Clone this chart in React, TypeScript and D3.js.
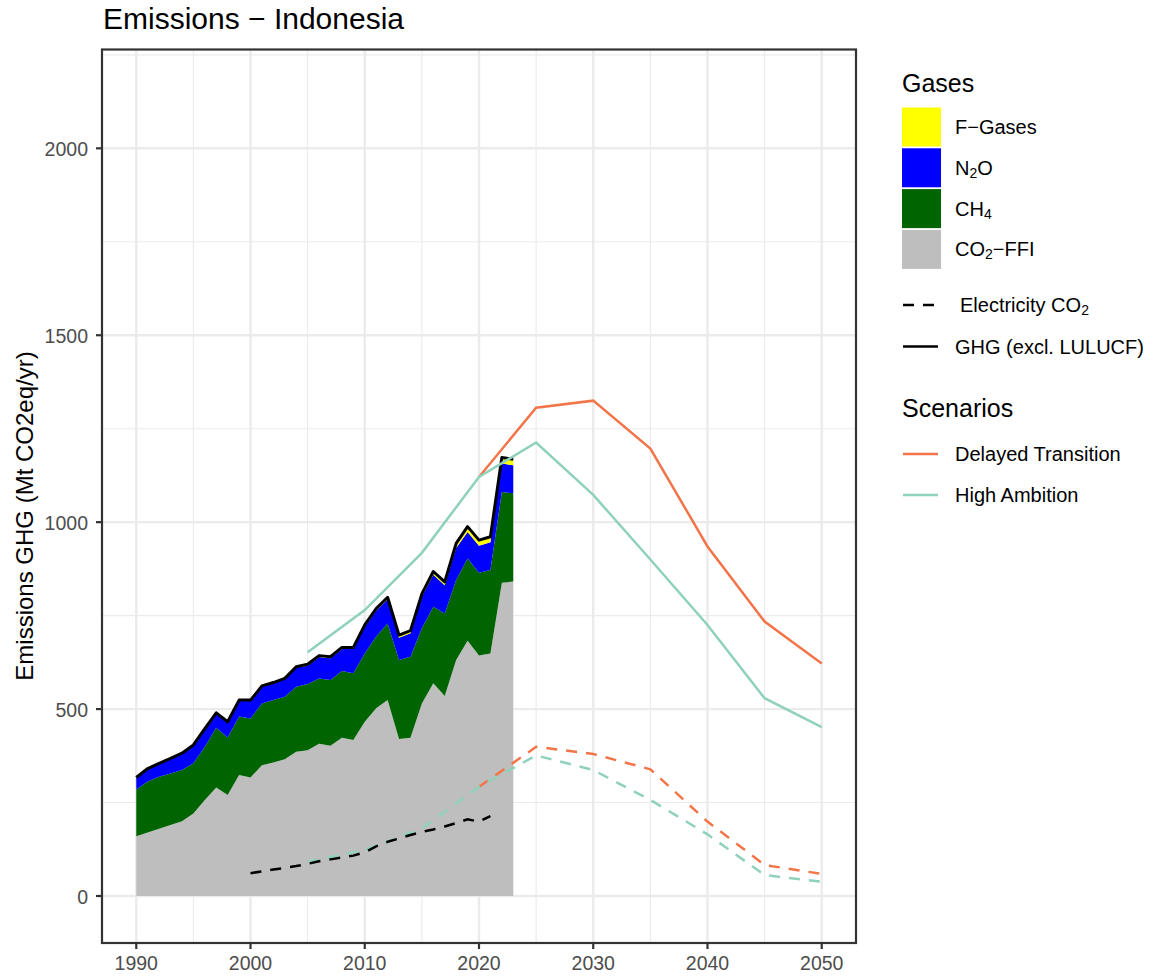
import React from 'react';
import * as d3 from 'd3';

const years = [1990, 1991, 1992, 1993, 1994, 1995, 1996, 1997, 1998, 1999, 2000, 2001, 2002, 2003, 2004, 2005, 2006, 2007, 2008, 2009, 2010, 2011, 2012, 2013, 2014, 2015, 2016, 2017, 2018, 2019, 2020, 2021, 2022, 2023];
const co2ffi = [160, 170, 180, 190, 200, 221, 257, 290, 270, 324, 317, 350, 357, 366, 386, 390, 407, 402, 423, 417, 466, 502, 524, 420, 423, 515, 569, 535, 631, 683, 643, 649, 838, 841];
const ch4 = [125, 136, 139, 138, 137, 134, 142, 160, 154, 156, 158, 165, 167, 167, 174, 177, 175, 176, 179, 179, 183, 192, 205, 211, 217, 201, 205, 221, 214, 220, 222, 223, 243, 236];
const n2o = [31, 34, 35, 39, 44, 48, 48, 39, 41, 43, 47, 45, 45, 47, 51, 49, 57, 58, 59, 65, 71, 70, 65, 60, 63, 85, 85, 75, 86, 71, 72, 74, 76, 75];
const fgases = [1, 1, 1, 1, 1, 1, 1, 1, 1, 1, 2, 2, 2, 2, 2, 4, 4, 4, 4, 4, 5, 5, 5, 7, 7, 7, 9, 9, 12, 14, 15, 15, 16, 16];

const elecYears = [2000, 2001, 2002, 2003, 2004, 2005, 2006, 2007, 2008, 2009, 2010, 2011, 2012, 2013, 2014, 2015, 2016, 2017, 2018, 2019, 2020, 2021];
const elecCO2 = [61, 66, 71, 75, 80, 86, 93, 98, 103, 108, 117, 133, 145, 154, 163, 172, 178, 186, 195, 205, 199, 214];

const haYears = [2005, 2010, 2015, 2020, 2025, 2030, 2035, 2040, 2045, 2050];
const haGHG = [652, 765, 918, 1121, 1213, 1073, 900, 725, 529, 452];
const haElec = [92, 123, 181, 292, 376, 337, 257, 165, 56, 38];

const dtYears = [2020, 2025, 2030, 2035, 2040, 2045, 2050];
const dtGHG = [1121, 1306, 1325, 1197, 935, 734, 622];
const dtElec = [292, 399, 380, 339, 199, 83, 59];

const xMajor = [1990, 2000, 2010, 2020, 2030, 2040, 2050];
const xMinor = [1995, 2005, 2015, 2025, 2035, 2045];
const yMajor = [0, 500, 1000, 1500, 2000];
const yMinor = [250, 750, 1250, 1750, 2250];

const gasKeys = ['co2', 'ch4', 'n2o', 'fg'];
const gasColors: Record<string, string> = { co2: '#BEBEBE', ch4: '#006400', n2o: '#0000FF', fg: '#FFFF00' };

const ORANGE = '#F2754A';
const TEAL = '#8FD1BB';
const FONT = '"Liberation Sans", Arial, Helvetica, sans-serif';

export default function App() {
  const W = 1160, H = 976;
  const pl = 102, pr = 856, pt = 49.5, pb = 943;
  const x = d3.scaleLinear().domain([1987, 2053]).range([pl, pr]);
  const y = d3.scaleLinear().domain([-125.7, 2264.3]).range([pb, pt]);

  const rows = years.map((yr, i) => ({ year: yr, co2: co2ffi[i], ch4: ch4[i], n2o: n2o[i], fg: fgases[i] }));
  const stack = d3.stack<any>().keys(gasKeys)(rows);
  const area = d3.area<any>().x((d: any) => x(d.data.year)).y0((d: any) => y(d[0])).y1((d: any) => y(d[1]));
  const line = d3.line<[number, number]>().x(d => x(d[0])).y(d => y(d[1]));

  const totals: [number, number][] = years.map((yr, i) => [yr, co2ffi[i] + ch4[i] + n2o[i] + fgases[i]]);
  const elec: [number, number][] = elecYears.map((yr, i) => [yr, elecCO2[i]]);
  const ha: [number, number][] = haYears.map((yr, i) => [yr, haGHG[i]]);
  const hae: [number, number][] = haYears.map((yr, i) => [yr, haElec[i]]);
  const dt: [number, number][] = dtYears.map((yr, i) => [yr, dtGHG[i]]);
  const dte: [number, number][] = dtYears.map((yr, i) => [yr, dtElec[i]]);

  const dash = '11,9';
  const lx = 902;
  const keyW = 39;

  const gasLegend = [
    { key: 'fg', label: <tspan>F−Gases</tspan> },
    { key: 'n2o', label: <tspan>N<tspan fontSize="14" dy="3">2</tspan><tspan dy="-3">O</tspan></tspan> },
    { key: 'ch4', label: <tspan>CH<tspan fontSize="14" dy="3">4</tspan></tspan> },
    { key: 'co2', label: <tspan>CO<tspan fontSize="14" dy="3">2</tspan><tspan dy="-3">−FFI</tspan></tspan> },
  ];

  return (
    <svg width={W} height={H} style={{ position: 'absolute', left: 0, top: 0, background: '#fff' }} fontFamily={FONT}>
      <rect x={0} y={0} width={W} height={H} fill="#fff" />
      <text x={103} y={29} fontSize={30} fill="#000">Emissions − Indonesia</text>

      {/* grid */}
      <g>
        {yMinor.map(v => <line key={'ym' + v} x1={pl} x2={pr} y1={y(v)} y2={y(v)} stroke="#EBEBEB" strokeWidth={1.1} />)}
        {xMinor.map(v => <line key={'xm' + v} y1={pt} y2={pb} x1={x(v)} x2={x(v)} stroke="#EBEBEB" strokeWidth={1.1} />)}
        {yMajor.map(v => <line key={'yM' + v} x1={pl} x2={pr} y1={y(v)} y2={y(v)} stroke="#EBEBEB" strokeWidth={2.4} />)}
        {xMajor.map(v => <line key={'xM' + v} y1={pt} y2={pb} x1={x(v)} x2={x(v)} stroke="#EBEBEB" strokeWidth={2.4} />)}
      </g>

      {/* stacked areas */}
      <g>
        {stack.map((s: any) => <path key={s.key} d={area(s) || ''} fill={gasColors[s.key]} />)}
      </g>

      {/* GHG total line */}
      <path d={line(totals) || ''} fill="none" stroke="#000" strokeWidth={3} strokeLinejoin="round" />

      {/* scenario lines */}
      <path d={line(dt) || ''} fill="none" stroke={ORANGE} strokeWidth={2.5} />
      <path d={line(ha) || ''} fill="none" stroke={TEAL} strokeWidth={2.5} />
      <path d={line(dte) || ''} fill="none" stroke={ORANGE} strokeWidth={2.5} strokeDasharray={dash} />
      <path d={line(hae) || ''} fill="none" stroke={TEAL} strokeWidth={2.5} strokeDasharray={dash} />
      <path d={line(elec) || ''} fill="none" stroke="#000" strokeWidth={2.5} strokeDasharray={dash} />

      {/* panel border */}
      <rect x={pl} y={pt} width={pr - pl} height={pb - pt} fill="none" stroke="#333333" strokeWidth={2.2} />

      {/* axes ticks */}
      {yMajor.map(v => (
        <g key={'yt' + v}>
          <line x1={pl - 6} x2={pl} y1={y(v)} y2={y(v)} stroke="#333333" strokeWidth={2.2} />
          <text x={88} y={y(v) + 7.5} textAnchor="end" fontSize={19.5} fill="#4D4D4D">{v}</text>
        </g>
      ))}
      {xMajor.map(v => (
        <g key={'xt' + v}>
          <line y1={pb} y2={pb + 6} x1={x(v)} x2={x(v)} stroke="#333333" strokeWidth={2.2} />
          <text x={x(v)} y={970} textAnchor="middle" fontSize={19.5} fill="#4D4D4D">{v}</text>
        </g>
      ))}

      <text transform={`translate(33, 516) rotate(-90)`} textAnchor="middle" fontSize={24} fill="#000">Emissions GHG (Mt CO2eq/yr)</text>

      {/* legend */}
      <text x={lx} y={91.5} fontSize={25} fill="#000">Gases</text>
      {gasLegend.map((g, i) => (
        <g key={g.key}>
          <rect x={lx} y={107.5 + i * 40.8} width={keyW} height={keyW} fill={gasColors[g.key]} />
          <text x={955} y={107.5 + i * 40.8 + 19.5 + 7} fontSize={20} fill="#000">{g.label}</text>
        </g>
      ))}
      <line x1={lx + 1} x2={lx + 36} y1={305} y2={305} stroke="#000" strokeWidth={2.5} strokeDasharray="11,9" />
      <text x={960} y={312} fontSize={20} fill="#000">Electricity CO<tspan fontSize="14" dy="3">2</tspan></text>
      <line x1={lx + 1} x2={lx + 36} y1={346.5} y2={346.5} stroke="#000" strokeWidth={2.5} />
      <text x={955} y={353.5} fontSize={20} fill="#000">GHG (excl. LULUCF)</text>

      <text x={lx} y={417} fontSize={25} fill="#000">Scenarios</text>
      <line x1={lx + 1} x2={lx + 36} y1={454} y2={454} stroke={ORANGE} strokeWidth={2.5} />
      <text x={955} y={461} fontSize={20} fill="#000">Delayed Transition</text>
      <line x1={lx + 1} x2={lx + 36} y1={495} y2={495} stroke={TEAL} strokeWidth={2.5} />
      <text x={955} y={502} fontSize={20} fill="#000">High Ambition</text>
    </svg>
  );
}
